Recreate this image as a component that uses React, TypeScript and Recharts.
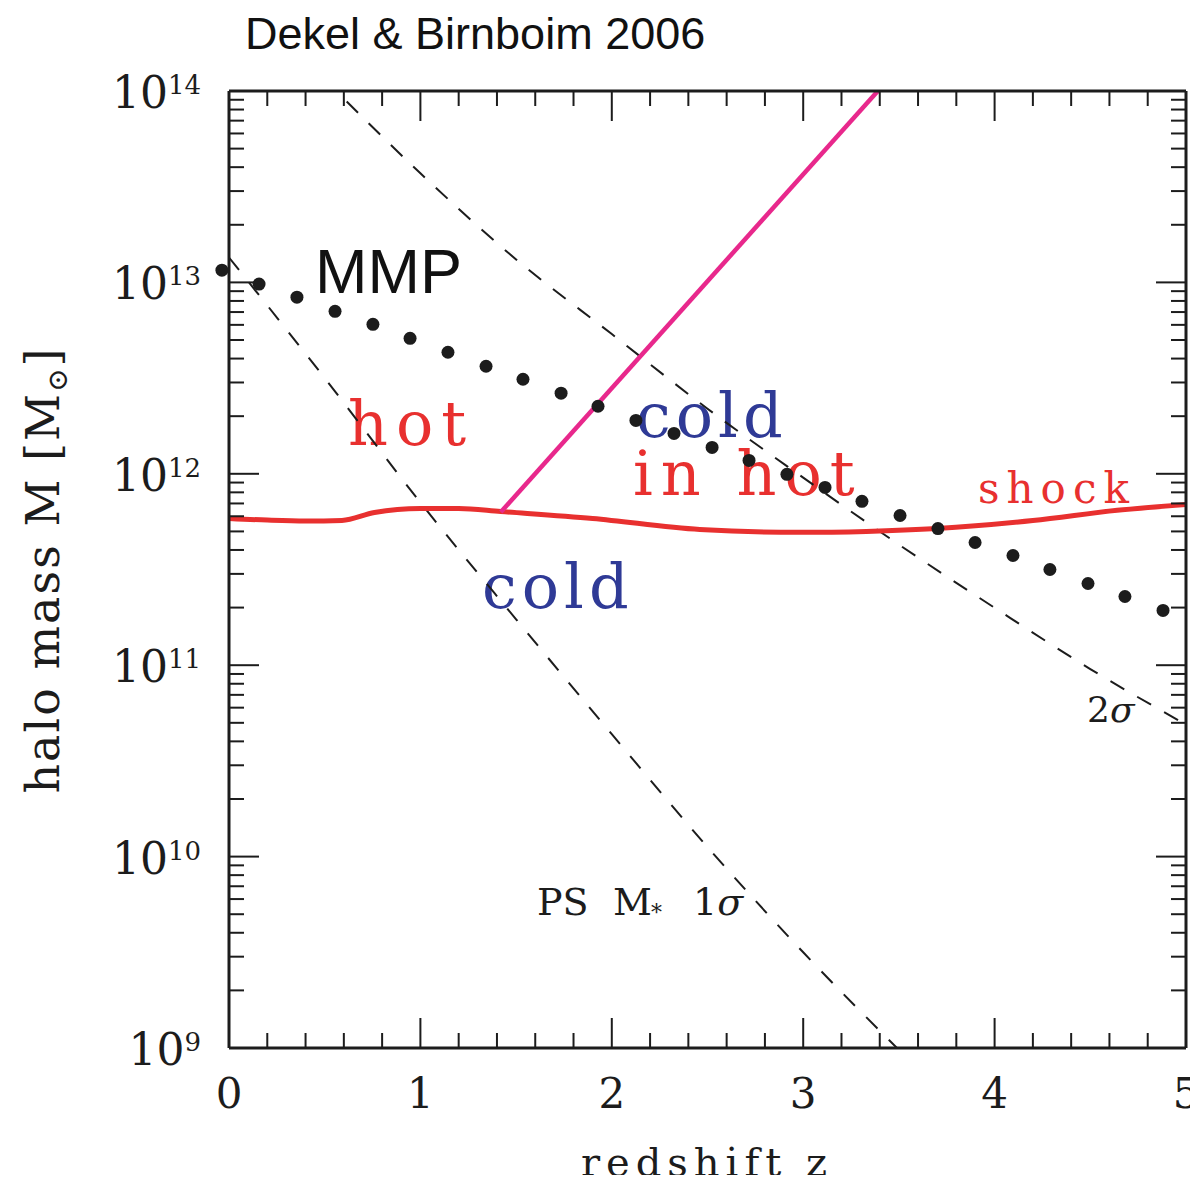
import React from 'react';
import { ComposedChart, Line, XAxis, YAxis, Customized } from 'recharts';

// most massive progenitor track (dots)
const mmpZ = [-0.037, 0.157, 0.355, 0.554, 0.752, 0.946, 1.144, 1.343, 1.536, 1.735, 1.928, 2.126, 2.325, 2.524, 2.717, 2.915, 3.114, 3.307, 3.506, 3.704, 3.898, 4.096, 4.289, 4.488, 4.681, 4.88];
const mmpLogM = [13.064, 12.991, 12.923, 12.849, 12.781, 12.708, 12.635, 12.562, 12.494, 12.421, 12.353, 12.279, 12.211, 12.138, 12.07, 11.997, 11.929, 11.856, 11.782, 11.714, 11.641, 11.573, 11.5, 11.427, 11.359, 11.286];

// shock-heating threshold (red)
const shockZ = [0, 0.2, 0.4, 0.59, 0.76, 1.0, 1.2, 1.42, 1.9, 2.46, 2.98, 3.33, 3.7, 4.2, 4.64, 5.0];
const shockLogM = [11.767, 11.758, 11.753, 11.756, 11.798, 11.819, 11.819, 11.803, 11.767, 11.709, 11.694, 11.699, 11.714, 11.756, 11.809, 11.84];

// upper limit of cold streams in hot haloes (magenta)
const streamZ = [1.42, 3.39];
const streamLogM = [11.8, 14.0];

// Press-Schechter M* (1 sigma) and 2 sigma
const sigma1Z = [0, 0.5, 1.0, 1.5, 2.0, 2.5, 3.0, 3.5];
const sigma1LogM = [13.13, 12.5, 11.85, 11.24, 10.64, 10.05, 9.5, 8.99];
const sigma2Z = [0.5, 1.0, 1.5, 2.0, 2.5, 3.0, 3.5, 4.0, 4.5, 5.0];
const sigma2LogM = [14.06, 13.57, 13.12, 12.73, 12.34, 11.98, 11.63, 11.3, 10.98, 10.69];

const zTicks = [0, 0.2, 0.4, 0.6, 0.8, 1, 1.2, 1.4, 1.6, 1.8, 2, 2.2, 2.4, 2.6, 2.8, 3, 3.2, 3.4, 3.6, 3.8, 4, 4.2, 4.4, 4.6, 4.8, 5];
const decades = [9, 10, 11, 12, 13, 14];
const mantissas = [1, 2, 3, 4, 5, 6, 7, 8, 9];

const toRows = (zs: number[], ms: number[]) => zs.map((z, i) => ({ z, m: ms[i] }));
const mmpData = toRows(mmpZ, mmpLogM);
const shockData = toRows(shockZ, shockLogM);
const streamData = toRows(streamZ, streamLogM);
const sigma1Data = toRows(sigma1Z, sigma1LogM);
const sigma2Data = toRows(sigma2Z, sigma2LogM);

const yTicks = decades
  .flatMap((d) => mantissas.map((k) => d + Math.log10(k)))
  .filter((v) => v <= 14.0001);

const INK = '#1c1c1c';
const RED = '#e8302f';
const PINK = '#e8288c';
const BLUE = '#2f3a96';
const SERIF = '"DejaVu Serif", serif';
const SANS = '"Liberation Sans", Arial, sans-serif';

const isMajor = (v: number) => Math.abs(v - Math.round(v)) < 1e-6;

const XTick = (props: any) => {
  const { x, y, payload, side } = props;
  const v = payload.value;
  const major = isMajor(v);
  const len = major ? 30 : 15;
  const dir = side === 'bottom' ? -1 : 1;
  return (
    <g>
      <line x1={x} y1={y} x2={x} y2={y + dir * len} stroke={INK} strokeWidth={2} />
      {side === 'bottom' && major && (
        <text x={x} y={y + 60} textAnchor="middle" fontFamily={SERIF} fontSize={42} fill={INK}>
          {Math.round(v)}
        </text>
      )}
    </g>
  );
};

const YTick = (props: any) => {
  const { x, y, payload, side } = props;
  const v = payload.value;
  const major = isMajor(v);
  const len = major ? 30 : 15;
  const dir = side === 'left' ? 1 : -1;
  return (
    <g>
      <line x1={x} y1={y} x2={x + dir * len} y2={y} stroke={INK} strokeWidth={2} />
      {side === 'left' && major && (
        <text x={x - 28} y={y + 17} textAnchor="end" fontFamily={SERIF} fill={INK}>
          <tspan fontSize={44}>10</tspan>
          <tspan fontSize={26} dy={-14}>{Math.round(v)}</tspan>
        </text>
      )}
    </g>
  );
};

// positions are in page pixels (the wrapper cancels the body margin)
const Annotations = () => (
  <g>
    <text x={245} y={49} fontFamily={SANS} fontSize={45} fill="#111">Dekel &amp; Birnboim 2006</text>
    <text x={315} y={293} fontFamily={SANS} fontSize={63} fill="#111">MMP</text>
    <text x={348} y={445} fontFamily={SERIF} fontSize={62} fill={RED} letterSpacing={8}>hot</text>
    <text x={636} y={437} fontFamily={SERIF} fontSize={62} fill={BLUE} letterSpacing={5}>cold</text>
    <text x={633} y={495} fontFamily={SERIF} fontSize={62} fill={RED} letterSpacing={8}>in hot</text>
    <text x={482} y={608} fontFamily={SERIF} fontSize={62} fill={BLUE} letterSpacing={5}>cold</text>
    <text x={978} y={503} fontFamily={SERIF} fontSize={42} fill={RED} letterSpacing={7}>shock</text>
    <text y={915} fontFamily={SERIF} fontSize={38} fill={INK}>
      <tspan x={537}>PS</tspan>
      <tspan x={613}>M</tspan>
      <tspan x={651} dy={5} fontSize={22}>*</tspan>
      <tspan x={693} dy={-5}>1</tspan>
      <tspan fontStyle="italic">σ</tspan>
    </text>
    <text x={1087} y={722} fontFamily={SERIF} fontSize={36} fill={INK}>
      2<tspan fontStyle="italic">σ</tspan>
    </text>
    <text x={707} y={1176} textAnchor="middle" fontFamily={SERIF} fontSize={40} fill={INK} letterSpacing={6}>
      redshift z
    </text>
    <text
      transform="rotate(-90)"
      x={-570}
      y={59}
      textAnchor="middle"
      fontFamily={SERIF}
      fontSize={46}
      fill={INK}
      letterSpacing={2}
    >
      halo mass M [M<tspan fontSize={28} dy={8}>⊙</tspan><tspan dy={-8}>]</tspan>
    </text>
  </g>
);

const axisLine = { stroke: INK, strokeWidth: 3 };

export default function App() {
  return (
    <div style={{ margin: -8, width: 1198, height: 1183 }}>
      <ComposedChart width={1198} height={1183} margin={{ top: 90, right: 11, bottom: 134, left: 228 }}>
        <XAxis
          xAxisId="b"
          type="number"
          dataKey="z"
          domain={[0, 5]}
          allowDataOverflow
          ticks={zTicks}
          interval={0}
          height={1}
          tickSize={0}
          tickMargin={0}
          tickLine={false}
          axisLine={axisLine}
          tick={(p: any) => <XTick {...p} side="bottom" />}
        />
        <XAxis
          xAxisId="t"
          orientation="top"
          type="number"
          dataKey="z"
          domain={[0, 5]}
          allowDataOverflow
          ticks={zTicks}
          interval={0}
          height={1}
          tickSize={0}
          tickMargin={0}
          tickLine={false}
          axisLine={axisLine}
          tick={(p: any) => <XTick {...p} side="top" />}
        />
        <YAxis
          yAxisId="l"
          type="number"
          domain={[9, 14]}
          allowDataOverflow
          ticks={yTicks}
          interval={0}
          width={1}
          tickSize={0}
          tickMargin={0}
          tickLine={false}
          axisLine={axisLine}
          tick={(p: any) => <YTick {...p} side="left" />}
        />
        <YAxis
          yAxisId="r"
          orientation="right"
          type="number"
          domain={[9, 14]}
          allowDataOverflow
          ticks={yTicks}
          interval={0}
          width={1}
          tickSize={0}
          tickMargin={0}
          tickLine={false}
          axisLine={axisLine}
          tick={(p: any) => <YTick {...p} side="right" />}
        />
        <Customized component={Annotations} />
        <Line
          xAxisId="b"
          yAxisId="l"
          data={sigma1Data}
          dataKey="m"
          type="monotone"
          stroke={INK}
          strokeWidth={2}
          strokeDasharray="16 16"
          dot={false}
          isAnimationActive={false}
        />
        <Line
          xAxisId="b"
          yAxisId="l"
          data={sigma2Data}
          dataKey="m"
          type="monotone"
          stroke={INK}
          strokeWidth={2}
          strokeDasharray="16 15"
          dot={false}
          isAnimationActive={false}
        />
        <Line
          xAxisId="b"
          yAxisId="l"
          data={shockData}
          dataKey="m"
          type="monotone"
          stroke={RED}
          strokeWidth={5}
          dot={false}
          isAnimationActive={false}
        />
        <Line
          xAxisId="b"
          yAxisId="l"
          data={streamData}
          dataKey="m"
          type="linear"
          stroke={PINK}
          strokeWidth={4.5}
          dot={false}
          isAnimationActive={false}
        />
        <Line
          xAxisId="b"
          yAxisId="l"
          data={mmpData}
          dataKey="m"
          type="linear"
          stroke="none"
          dot={{ r: 6.5, fill: INK, stroke: 'none', strokeWidth: 24, clipDot: false }}
          isAnimationActive={false}
        />
      </ComposedChart>
    </div>
  );
}
